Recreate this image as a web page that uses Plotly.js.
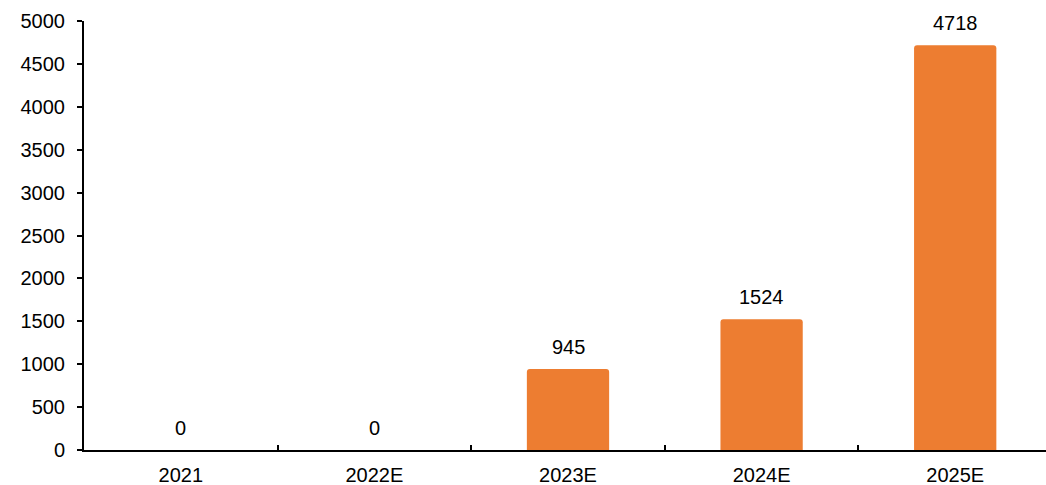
<!DOCTYPE html>
<html>
<head>
<meta charset="utf-8">
<script src="https://cdn.plot.ly/plotly-3.0.1.min.js"></script>
<style>
html,body{margin:0;padding:0;overflow:hidden;background:#fff;}
#chart{width:1052px;height:485px;}
</style>
</head>
<body>
<div id="chart"></div>
<script>
const categories = ["2021", "2022E", "2023E", "2024E", "2025E"];
const values = [0, 0, 945, 1524, 4718];
const labels = ["0", "0", "945", "1524", "4718"];
const yTicks = [0, 500, 1000, 1500, 2000, 2500, 3000, 3500, 4000, 4500, 5000];

const font = {family: "Liberation Sans, Arial, sans-serif", size: 20, color: "#000"};

// annotations placed by category index on the category axis
const annotations = categories.map((c, i) => ({
  x: i,
  y: values[i],
  xref: "x",
  yref: "y",
  text: labels[i],
  showarrow: false,
  yanchor: "bottom",
  yshift: 9,
  font: font
}));

Plotly.newPlot("chart", [{
  type: "bar",
  x: categories,
  y: values,
  marker: {color: "#ED7D31", cornerradius: 3},
  hoverinfo: "none"
}], {
  width: 1052,
  height: 485,
  margin: {l: 84, r: 0, t: 21, b: 35},
  paper_bgcolor: "#fff",
  plot_bgcolor: "#fff",
  bargap: 0.575,
  showlegend: false,
  font: font,
  annotations: annotations,
  xaxis: {
    type: "category",
    categoryorder: "array",
    categoryarray: categories,
    range: [-0.5, categories.length - 0.5],
    showline: true,
    linecolor: "#000",
    linewidth: 2,
    ticks: "inside",
    tickson: "boundaries",
    ticklen: 5,
    tickwidth: 2,
    tickcolor: "#000",
    showgrid: false,
    zeroline: false,
    tickfont: font,
    ticklabelstandoff: 6
  },
  yaxis: {
    range: [0, 5000],
    tickvals: yTicks,
    ticktext: yTicks.map(String),
    showline: true,
    linecolor: "#000",
    linewidth: 2,
    ticks: "outside",
    ticklen: 5,
    tickwidth: 2,
    tickcolor: "#000",
    showgrid: false,
    zeroline: false,
    tickfont: font,
    ticklabelstandoff: 8
  }
}, {displayModeBar: false, staticPlot: true});
</script>
</body>
</html>
